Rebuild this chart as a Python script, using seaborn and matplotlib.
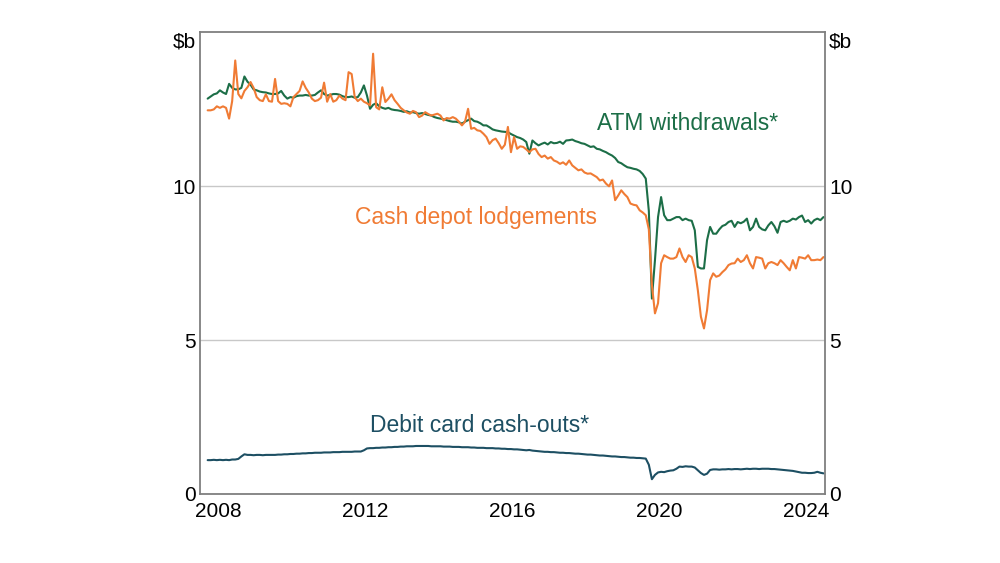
import pandas as pd
import matplotlib
matplotlib.use("Agg")
import matplotlib.pyplot as plt
import seaborn as sns

# monthly, Mar 2008 to Dec 2024, $b
months = pd.date_range("2008-03-01", "2024-12-01", freq="MS")

atm = [
    12.85, 12.92, 12.99, 13.02, 13.12, 13.05, 13.0, 13.33, 13.2, 13.15,
    13.15, 13.2, 13.57, 13.4, 13.3, 13.15, 13.12, 13.08, 13.06, 13.05, 13.02, 13.0,
    13.0, 13.02, 13.1, 12.95, 12.85, 12.9, 12.88, 12.93, 12.95, 12.95, 12.97, 12.95,
    12.95, 12.97, 13.05, 13.12, 13.0, 12.95, 12.97, 13.0, 13.0, 12.98, 12.93, 12.9,
    12.9, 12.92, 12.88, 12.9, 13.05, 13.28, 12.95, 12.52, 12.65, 12.7, 12.6, 12.55,
    12.52, 12.55, 12.5, 12.48, 12.47, 12.45, 12.42, 12.44, 12.4, 12.41, 12.38, 12.36,
    12.38, 12.35, 12.32, 12.3, 12.25, 12.22, 12.2, 12.18, 12.15, 12.12, 12.1, 12.1,
    12.08, 12.04, 12.1, 12.15, 12.2, 12.12, 12.1, 12.05, 11.98, 11.98, 11.92, 11.85,
    11.82, 11.8, 11.78, 11.77, 11.76, 11.7, 11.65, 11.6, 11.57, 11.52, 11.44, 11.06,
    11.49, 11.4, 11.33, 11.38, 11.42, 11.36, 11.44, 11.4, 11.41, 11.45, 11.38, 11.49,
    11.5, 11.52, 11.47, 11.44, 11.4, 11.38, 11.33, 11.28, 11.3, 11.22, 11.2, 11.15,
    11.11, 11.05, 11.0, 10.92, 10.79, 10.75, 10.68, 10.62, 10.6, 10.57, 10.55, 10.5,
    10.4, 10.25, 9.2, 6.35, 7.6, 9.0, 9.65, 9.06, 8.9, 8.9, 8.95, 9.0,
    9.0, 8.9, 8.95, 8.9, 8.88, 8.57, 7.38, 7.33, 7.33, 8.25, 8.68, 8.46,
    8.46, 8.6, 8.71, 8.75, 8.84, 8.88, 8.68, 8.84, 8.8, 8.85, 8.95, 8.57,
    8.68, 8.95, 8.68, 8.6, 8.57, 8.73, 8.84, 8.7, 8.49, 8.84, 8.88, 8.84,
    8.88, 8.95, 8.92, 9.0, 9.05, 8.84, 8.9, 8.79, 8.9, 8.95, 8.9, 9.0,
]

depot = [
    12.47, 12.47, 12.5, 12.6, 12.55, 12.6, 12.55, 12.2, 12.77, 14.09,
    13.0, 12.86, 13.1, 13.22, 13.39, 13.2, 12.9, 12.8, 12.77, 12.99, 12.77, 12.75,
    13.49, 12.77, 12.68, 12.7, 12.68, 12.6, 12.9, 13.0, 13.1, 13.41, 13.2, 13.05,
    12.85, 12.77, 12.8, 12.88, 13.37, 12.75, 13.0, 12.75, 12.8, 12.95, 12.85, 12.8,
    13.71, 13.65, 12.9, 12.77, 12.85, 12.75, 12.7, 12.63, 14.31, 12.57, 12.5, 13.22,
    12.74, 12.85, 12.99, 12.8, 12.68, 12.55, 12.47, 12.4, 12.36, 12.45, 12.41, 12.25,
    12.3, 12.41, 12.35, 12.3, 12.33, 12.36, 12.3, 12.14, 12.22, 12.2, 12.25, 12.2,
    12.1, 11.98, 12.1, 12.52, 11.87, 11.9, 11.82, 11.8, 11.71, 11.6, 11.38, 11.5,
    11.55, 11.4, 11.22, 11.35, 11.93, 11.11, 11.6, 11.22, 11.3, 11.28, 11.2, 11.11,
    11.2, 11.22, 11.05, 10.95, 11.0, 10.9, 10.95, 10.84, 10.8, 10.73, 10.78, 10.7,
    10.84, 10.68, 10.6, 10.52, 10.55, 10.45, 10.41, 10.42, 10.36, 10.3, 10.19, 10.22,
    10.09, 10.0, 10.19, 9.55, 9.7, 9.87, 9.75, 9.65, 9.44, 9.4, 9.38, 9.22,
    9.15, 9.06, 8.6, 6.8, 5.87, 6.2, 7.5, 7.76, 7.7, 7.65, 7.65, 7.7,
    7.98, 7.7, 7.54, 7.76, 7.7, 7.33, 6.62, 5.76, 5.38, 5.97, 6.95, 7.17,
    7.06, 7.1, 7.21, 7.3, 7.44, 7.49, 7.5, 7.65, 7.54, 7.6, 7.76, 7.5,
    7.33, 7.7, 7.68, 7.65, 7.33, 7.5, 7.54, 7.5, 7.44, 7.6, 7.5, 7.38,
    7.27, 7.6, 7.33, 7.7, 7.68, 7.65, 7.76, 7.6, 7.6, 7.62, 7.6, 7.7,
]

debit = [
    1.10, 1.10, 1.11, 1.10, 1.11, 1.10, 1.11, 1.10, 1.12, 1.12,
    1.14, 1.22, 1.29, 1.27, 1.27, 1.26, 1.27, 1.27, 1.26, 1.27, 1.27, 1.27,
    1.27, 1.28, 1.28, 1.29, 1.29, 1.30, 1.30, 1.31, 1.31, 1.32, 1.32, 1.33,
    1.33, 1.34, 1.34, 1.34, 1.35, 1.35, 1.35, 1.36, 1.36, 1.36, 1.37, 1.37,
    1.37, 1.37, 1.38, 1.38, 1.38, 1.42, 1.48, 1.49, 1.49, 1.50, 1.50, 1.51,
    1.51, 1.52, 1.52, 1.53, 1.53, 1.54, 1.54, 1.55, 1.55, 1.55, 1.56, 1.56,
    1.56, 1.56, 1.56, 1.55, 1.55, 1.55, 1.55, 1.54, 1.54, 1.54, 1.53, 1.53,
    1.53, 1.52, 1.52, 1.52, 1.51, 1.51, 1.50, 1.50, 1.50, 1.49, 1.49, 1.49,
    1.48, 1.48, 1.47, 1.47, 1.46, 1.46, 1.45, 1.45, 1.44, 1.43, 1.42, 1.43,
    1.41, 1.40, 1.39, 1.38, 1.37, 1.37, 1.36, 1.36, 1.35, 1.34, 1.34, 1.33,
    1.33, 1.32, 1.31, 1.31, 1.30, 1.29, 1.28, 1.28, 1.27, 1.26, 1.25, 1.25,
    1.24, 1.23, 1.22, 1.22, 1.21, 1.20, 1.20, 1.19, 1.18, 1.18, 1.17, 1.17,
    1.16, 1.15, 0.95, 0.48, 0.62, 0.70, 0.72, 0.71, 0.74, 0.76, 0.77, 0.82,
    0.89, 0.88, 0.90, 0.89, 0.89, 0.86, 0.77, 0.68, 0.62, 0.66, 0.78, 0.80,
    0.80, 0.79, 0.80, 0.80, 0.81, 0.80, 0.81, 0.81, 0.80, 0.81, 0.82, 0.81,
    0.82, 0.82, 0.81, 0.82, 0.82, 0.82, 0.81, 0.81, 0.80, 0.79, 0.78, 0.77,
    0.76, 0.75, 0.73, 0.71, 0.69, 0.69, 0.68, 0.68, 0.69, 0.72, 0.69, 0.67,
]

series_names = ["ATM withdrawals*", "Cash depot lodgements", "Debit card cash-outs*"]
colors = ["#1c6e47", "#f07b34", "#1d4f63"]
year_labels = [2008, 2012, 2016, 2020, 2024]
y_ticks = [0, 5, 10]

# decimal year at mid-month
t = months.year + (months.month - 0.5) / 12
df = pd.concat([
    pd.DataFrame({"t": t, "value": vals, "series": name})
    for name, vals in zip(series_names, [atm, depot, debit])
])

sns.set_style("white")
plt.rcParams["font.family"] = ["Liberation Sans", "DejaVu Sans"]

fig = plt.figure(figsize=(10, 5.63), dpi=100)
ax = fig.add_axes([0.2, 0.1226, 0.625, 0.8197])

sns.lineplot(data=df, x="t", y="value", hue="series", hue_order=series_names,
             palette=colors, linewidth=1.5, legend=False, ax=ax)

ax.set_xlim(2008, 2025)
ax.set_ylim(0, 15)
ax.set_xlabel("")
ax.set_ylabel("")

# year boundaries as tick marks, labels centred in the year
ax.set_xticks(range(2008, 2026))
ax.set_xticklabels([])
ax.set_xticks([y + 0.5 for y in year_labels], minor=True)
ax.set_xticklabels([str(y) for y in year_labels], minor=True)
ax.tick_params(axis="x", which="major", direction="in", length=4, width=1, color="#555555")
ax.tick_params(axis="x", which="minor", length=0, pad=6, labelsize=15, labelcolor="black")

ax.set_yticks(y_ticks)
ax.set_yticklabels([str(v) for v in y_ticks])
ax.tick_params(axis="y", length=0, labelsize=15, labelleft=True, labelright=True,
               pad=3, labelcolor="black")
ax.grid(axis="y", color="#c8c8c8", linewidth=1)
ax.grid(axis="x", visible=False)

for s in ax.spines.values():
    s.set_visible(True)
    s.set_color("#7f7f7f")
    s.set_linewidth(1.3)

ax.text(-0.006, 0.98, "$b", transform=ax.transAxes, ha="right", va="center", fontsize=15, color="black")
ax.text(1.006, 0.98, "$b", transform=ax.transAxes, ha="left", va="center", fontsize=15, color="black")

ax.text(2021.25, 12.05, "ATM withdrawals*", color=colors[0], fontsize=16.5, ha="center", va="center")
ax.text(2015.5, 9.0, "Cash depot lodgements", color=colors[1], fontsize=16.5, ha="center", va="center")
ax.text(2015.6, 2.24, "Debit card cash-outs*", color=colors[2], fontsize=16.5, ha="center", va="center")

fig.savefig("out.png", dpi=100)
